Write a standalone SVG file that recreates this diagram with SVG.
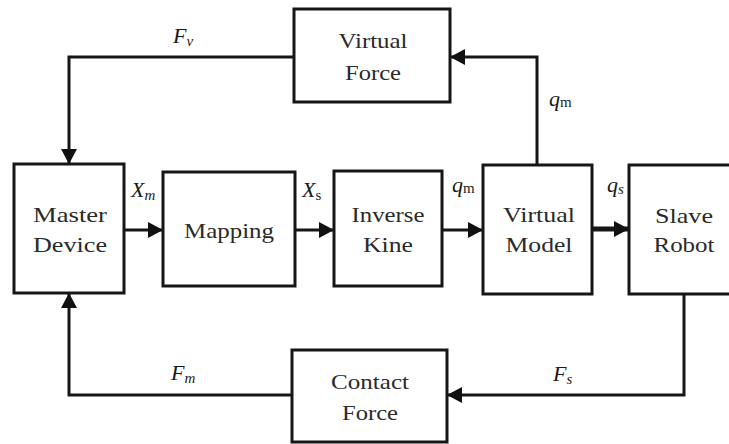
<svg xmlns="http://www.w3.org/2000/svg" width="729" height="444" viewBox="0 0 729 444">
  <defs>
    <marker id="arrow" markerUnits="userSpaceOnUse" markerWidth="16" markerHeight="16" refX="15" refY="8" orient="auto">
      <path d="M0,0 L15,8 L0,16 z" fill="#111"/>
    </marker>
    <style>
      .box { fill: #fff; stroke: #161616; stroke-width: 3; }
      .wire { fill: none; stroke: #161616; stroke-width: 3; marker-end: url(#arrow); }
      .wire.thick { stroke-width: 5; }
      .name { font-size: 22px; fill: #2a2a2a; text-anchor: middle; }
      .sym { font-size: 22px; fill: #1a1a1a; font-style: italic; }
      .sub { font-size: 15px; }
      .up { font-style: normal; }
    </style>
  </defs>
  <rect width="729" height="444" fill="#fff"/>

  <!-- signal lines -->
  <g id="connectors">
    <path class="wire" d="M294,57 H69 V164"/>
    <path class="wire" d="M537,165 V57 H450"/>
    <path class="wire" d="M684,294 V395 H447"/>
    <path class="wire" d="M292,395 H69 V293"/>
    <path class="wire" d="M124,230 H163"/>
    <path class="wire" d="M295,230 H334"/>
    <path class="wire" d="M442,230 H483"/>
    <path class="wire thick" d="M592,229 H629"/>
  </g>

  <!-- signal symbols -->
  <g id="labels" font-family="Liberation Serif, DejaVu Serif, serif">
    <text class="sym" x="173" y="43">F<tspan class="sub" dy="3">v</tspan></text>
    <text class="sym" x="131" y="197">X<tspan class="sub" dy="3">m</tspan></text>
    <text class="sym" x="302" y="197">X<tspan class="sub up" dy="3">s</tspan></text>
    <text class="sym" x="452" y="192">q<tspan class="sub up" dy="1">m</tspan></text>
    <text class="sym" x="607" y="192">q<tspan class="sub" dy="2">s</tspan></text>
    <text class="sym" x="549" y="106">q<tspan class="sub up" dy="1">m</tspan></text>
    <text class="sym" x="171" y="380">F<tspan class="sub" dy="3">m</tspan></text>
    <text class="sym" x="553" y="381">F<tspan class="sub" dy="3">s</tspan></text>
  </g>

  <g id="blocks" font-family="Liberation Serif, DejaVu Serif, serif">
    <g id="master-device">
      <rect class="box" x="14" y="164" width="110" height="129"/>
      <text class="name" x="70" y="222" textLength="74" lengthAdjust="spacingAndGlyphs">Master</text>
      <text class="name" x="70" y="252" textLength="74" lengthAdjust="spacingAndGlyphs">Device</text>
    </g>

    <g id="mapping">
      <rect class="box" x="163" y="172" width="132" height="114"/>
      <text class="name" x="229" y="238" textLength="90" lengthAdjust="spacingAndGlyphs">Mapping</text>
    </g>

    <g id="inverse-kine">
      <rect class="box" x="334" y="171" width="108" height="115"/>
      <text class="name" x="388" y="222" textLength="73" lengthAdjust="spacingAndGlyphs">Inverse</text>
      <text class="name" x="388" y="252" textLength="50" lengthAdjust="spacingAndGlyphs">Kine</text>
    </g>

    <g id="virtual-model">
      <rect class="box" x="483" y="165" width="109" height="129"/>
      <text class="name" x="539" y="222" textLength="72" lengthAdjust="spacingAndGlyphs">Virtual</text>
      <text class="name" x="539" y="252" textLength="67" lengthAdjust="spacingAndGlyphs">Model</text>
    </g>

    <g id="slave-robot">
      <rect class="box" x="629" y="165" width="110" height="129"/>
      <text class="name" x="684" y="223" textLength="58" lengthAdjust="spacingAndGlyphs">Slave</text>
      <text class="name" x="684" y="252" textLength="61" lengthAdjust="spacingAndGlyphs">Robot</text>
    </g>

    <g id="virtual-force">
      <rect class="box" x="294" y="9" width="156" height="93"/>
      <text class="name" x="373" y="48" textLength="69" lengthAdjust="spacingAndGlyphs">Virtual</text>
      <text class="name" x="373" y="80" textLength="56" lengthAdjust="spacingAndGlyphs">Force</text>
    </g>

    <g id="contact-force">
      <rect class="box" x="292" y="350" width="155" height="92"/>
      <text class="name" x="370" y="389" textLength="78" lengthAdjust="spacingAndGlyphs">Contact</text>
      <text class="name" x="370" y="420" textLength="56" lengthAdjust="spacingAndGlyphs">Force</text>
    </g>
  </g>
</svg>
